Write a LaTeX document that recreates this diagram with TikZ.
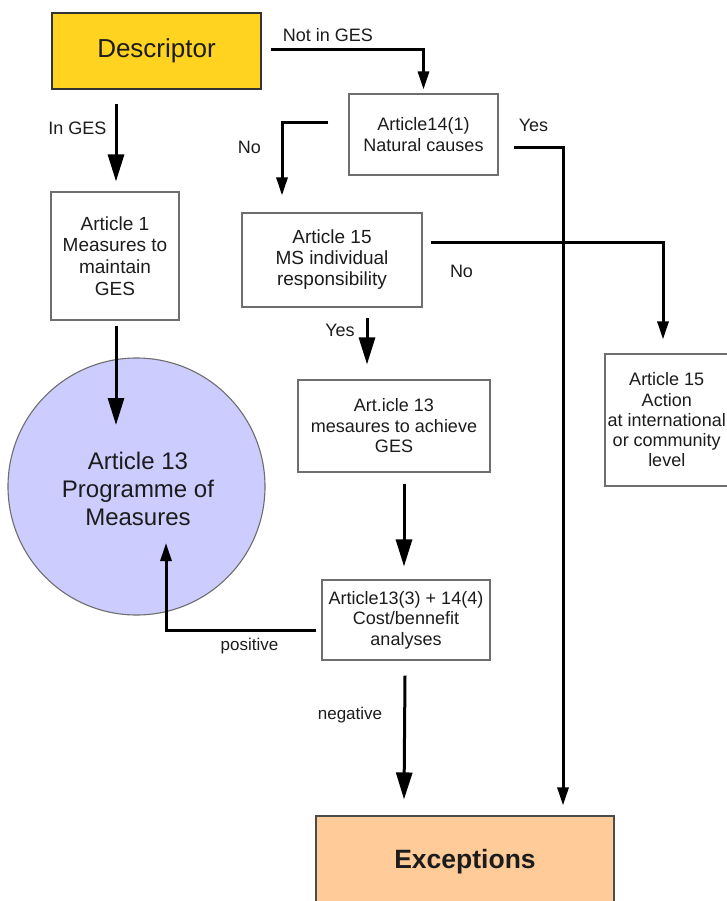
\documentclass[tikz,border=0pt]{standalone}
\usepackage{fontspec}
\setmainfont{Liberation Sans}
\usetikzlibrary{arrows.meta}
\definecolor{descfill}{HTML}{FFD320}
\definecolor{excfill}{HTML}{FFCC99}
\definecolor{pomfill}{HTML}{CCCCFF}
\definecolor{edge}{HTML}{6E6E6E}
\definecolor{ink}{HTML}{1C1C1C}

\begin{document}
\begin{tikzpicture}[x=1pt,y=-1pt,
  box/.style={draw=edge, line width=1.1pt, fill=white, rectangle, inner sep=0pt,
    align=center, text=ink, font=\fontsize{18}{20.5}\selectfont},
  lbl/.style={text=ink, inner sep=0pt, font=\fontsize{18}{20}\selectfont},
  conn/.style={line width=3pt, draw=black},
  bigtip/.style={-{Triangle[length=27pt,width=16pt]}},
  smalltip/.style={-{Triangle[length=18pt,width=11pt]}},
]
\useasboundingbox (0,0) rectangle (727,901);

% ---- nodes ----
\node[box, draw=black!80, fill=descfill, minimum width=209pt, minimum height=76pt,
  font=\fontsize{26}{30}\selectfont] (desc) at (156.5,51) {Descriptor};

\node[box, minimum width=149pt, minimum height=81pt] (a14) at (423.5,134.5)
  {Article14(1)\\Natural causes};

\node[box, minimum width=128pt, minimum height=128pt,
  font=\fontsize{19}{21.7}\selectfont] (a1) at (115,256)
  {Article 1\\Measures to\\maintain\\GES};

\node[box, minimum width=180pt, minimum height=94pt,
  font=\fontsize{19}{21}\selectfont] (a15ms) at (332,260)
  {Article 15\\MS individual\\responsibility};

\node[box, minimum width=192pt, minimum height=92pt] (a13) at (394,426)
  {Art.icle 13\\mesaures to achieve\\GES};

\node[box, minimum width=123.5pt, minimum height=132pt,
  font=\fontsize{18}{20.25}\selectfont] (action) at (666.75,420)
  {Article 15\\Action\\at international\\or community\\level};

\node[box, minimum width=168pt, minimum height=80pt] (cba) at (406,620)
  {Article13(3) + 14(4)\\Cost/bennefit\\analyses};

\node[circle, draw=edge, line width=1.1pt, fill=pomfill, minimum size=257pt,
  inner sep=0pt, align=center, text=ink, font=\fontsize{24}{28}\selectfont]
  (pom) at (136.5,486.5) {};
\node[align=center, text=ink, inner sep=0pt, font=\fontsize{24}{28}\selectfont]
  (pomtext) at (138,488.5) {Article 13\\Programme of\\Measures};

\node[box, draw=black!70, fill=excfill, minimum width=298pt, minimum height=92pt,
  font=\bfseries\fontsize{26.5}{30}\selectfont] (exc) at (465,862) {Exceptions};

% ---- connector labels ----
\node[lbl] (lnotin) at (328,35) {Not in GES};
\node[lbl] (lin) at (77.5,128) {In GES};
\node[lbl] (lno1) at (249.5,147) {No};
\node[lbl] (lyes1) at (533.5,125) {Yes};
\node[lbl] (lno2) at (461.5,271.5) {No};
\node[lbl] (lyes2) at (340,330.5) {Yes};
\node[lbl, font=\fontsize{17}{20}\selectfont] (lpos) at (249.5,646.5) {positive};
\node[lbl, font=\fontsize{17}{20}\selectfont] (lneg) at (350,715) {negative};

% ---- connectors ----
\draw[conn, smalltip, shorten >=4pt] ([xshift=9pt,yshift=1pt]desc.east) -| (a14.north);
\draw[conn, bigtip] ([xshift=-40.5pt,yshift=-14pt]desc.south) -- ([xshift=1pt,yshift=10pt]a1.north);
\draw[conn, bigtip] ([xshift=1pt,yshift=-5pt]a1.south) -- ([xshift=-20.5pt,yshift=61.5pt]pom.center);
\draw[conn, smalltip] ([xshift=-20pt,yshift=11.5pt]a14.west) -| ([xshift=-50pt,yshift=17pt]a15ms.north);
\draw[conn, smalltip] ([xshift=15pt,yshift=-13.5pt]a14.east) -| ([xshift=98pt,yshift=10pt]exc.north);
\draw[conn, smalltip] ([xshift=8pt,yshift=18pt]a15ms.east) -| ([xshift=-3.75pt,yshift=14pt]action.north);
\draw[conn, bigtip] ([xshift=35pt,yshift=-10pt]a15ms.south) -- ([xshift=-27pt,yshift=15pt]a13.north);
\draw[conn, bigtip] ([xshift=10pt,yshift=-11pt]a13.south) -- ([xshift=-2pt,yshift=13pt]cba.north);
\draw[conn, smalltip] ([xshift=-5pt,yshift=-10pt]cba.west) -| ([xshift=29.5pt,yshift=-56.5pt]pom.center);
\draw[conn, bigtip] ([xshift=-1pt,yshift=-15pt]cba.south) -- ([xshift=-61pt,yshift=16pt]exc.north);
\end{tikzpicture}
\end{document}
